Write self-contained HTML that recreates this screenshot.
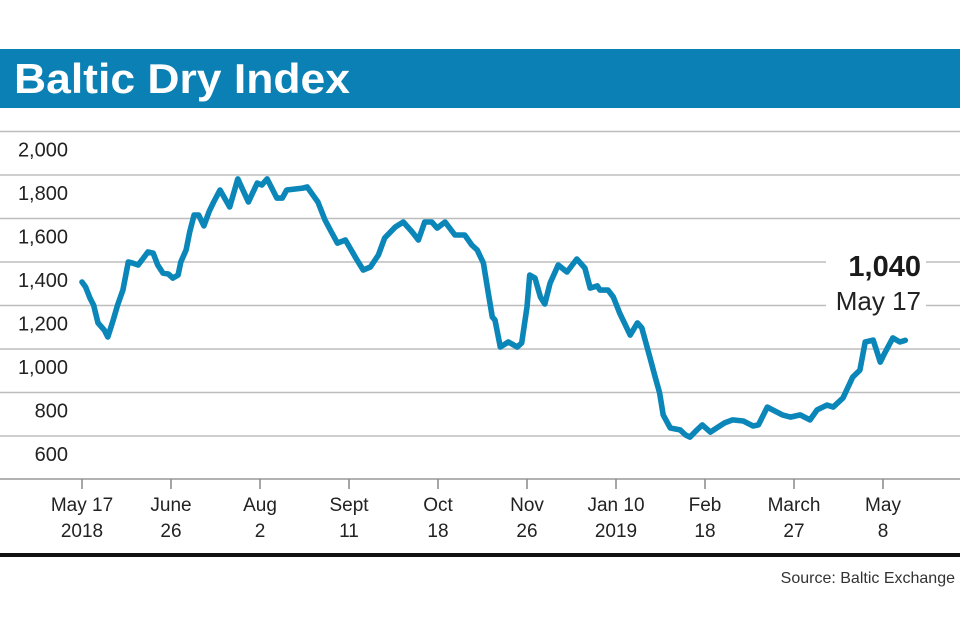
<!DOCTYPE html>
<html><head><meta charset="utf-8"><style>
html,body{margin:0;padding:0;background:#fff;}
body{width:960px;height:640px;overflow:hidden;font-family:"Liberation Sans",sans-serif;}
</style></head><body>
<svg width="960" height="640" viewBox="0 0 960 640" style="display:block">
<rect x="0" y="49" width="960" height="59" fill="#0a80b4"/>
<text x="14" y="93" font-size="42" font-weight="bold" fill="#fff" textLength="336" lengthAdjust="spacingAndGlyphs" font-family="Liberation Sans, sans-serif">Baltic Dry Index</text>
<g id="grid"></g><g id="xaxis"></g>
<path id="series" fill="none" stroke="#0b86b8" stroke-width="5.6" stroke-linejoin="round" stroke-linecap="round"/>
<rect x="826" y="247" width="100" height="74" fill="#fff"/>
<text x="921" y="276" text-anchor="end" font-size="29" font-weight="bold" fill="#1a1a1a">1,040</text>
<text x="921" y="310" text-anchor="end" font-size="26" fill="#222">May 17</text>
<rect x="0" y="553" width="960" height="4" fill="#111"/>
<text x="955" y="583" text-anchor="end" font-size="16" fill="#333">Source: Baltic Exchange</text>
</svg>
<script>
const yTicks=[600,800,1000,1200,1400,1600,1800,2000];
const yTickLabels=["600","800","1,000","1,200","1,400","1,600","1,800","2,000"];
const xTickPos=[0,10,20,30,40,50,60,70,80,90];
const xTickLine1=["May 17","June","Aug","Sept","Oct","Nov","Jan 10","Feb","March","May"];
const xTickLine2=["2018","26","2","11","18","26","2019","18","27","8"];
const timeIdx=[0,0.4,0.9,1.3,1.8,2.5,2.9,3.5,4.0,4.6,5.2,5.7,6.3,6.9,7.4,8.0,8.5,9.1,9.7,10.2,10.8,11.1,11.7,12.1,12.6,13.1,13.7,14.3,14.8,15.5,16.6,17.5,18.7,19.7,20.2,20.8,21.9,22.5,23.0,24.8,25.3,26.5,27.3,27.9,28.7,29.6,30.9,31.6,32.4,33.3,34.0,35.2,36.1,37.1,37.8,38.5,39.3,39.9,40.8,41.9,43.0,43.8,44.4,45.1,45.6,46.1,46.4,47.0,47.9,48.9,49.4,50.0,50.3,50.9,51.5,52.0,52.6,53.5,54.5,55.6,56.5,57.1,57.9,58.2,59.1,59.7,60.4,61.6,62.4,62.9,63.8,64.4,64.9,65.3,66.1,67.2,67.8,68.3,69.1,69.7,70.6,71.3,72.2,73.1,74.3,75.4,76.0,77.0,77.6,78.7,79.6,80.7,81.8,82.6,83.7,84.4,85.5,86.6,87.4,88.0,88.9,89.7,90.2,91.1,91.9,92.5];
const values=[1308,1285,1234,1202,1120,1087,1055,1133,1202,1271,1400,1395,1386,1418,1446,1441,1386,1349,1345,1326,1340,1400,1455,1538,1616,1616,1566,1634,1676,1731,1653,1782,1676,1763,1754,1782,1694,1694,1731,1740,1745,1676,1593,1547,1487,1501,1409,1363,1377,1432,1510,1561,1584,1538,1501,1584,1584,1556,1584,1524,1524,1478,1455,1395,1271,1147,1133,1009,1032,1009,1028,1193,1340,1326,1239,1207,1303,1386,1354,1414,1372,1280,1290,1271,1271,1239,1166,1064,1120,1097,963,871,798,697,637,628,605,595,628,651,618,637,660,674,669,646,651,733,720,697,687,697,674,720,742,733,775,871,903,1032,1041,940,982,1051,1032,1040];
const NS="http://www.w3.org/2000/svg";
const xScale=t=>82+t*8.9;
const yScale=v=>349-(v-1000)*0.2175;
const grid=document.getElementById('grid');
yTicks.forEach((v,i)=>{
  const l=document.createElementNS(NS,'line');
  l.setAttribute('x1',0);l.setAttribute('x2',960);
  l.setAttribute('y1',yScale(v));l.setAttribute('y2',yScale(v));
  l.setAttribute('stroke','#bdbdbd');l.setAttribute('stroke-width','1.5');
  
  
  grid.appendChild(l);
  const t=document.createElementNS(NS,'text');
  t.setAttribute('x',68);t.setAttribute('y',yScale(v)+25);
  t.setAttribute('text-anchor','end');t.setAttribute('font-size','20');t.setAttribute('fill','#222');
  t.textContent=yTickLabels[i];
  
  
  grid.appendChild(t);
});
const xa=document.getElementById('xaxis');
const base=document.createElementNS(NS,'line');
base.setAttribute('x1',0);base.setAttribute('x2',960);base.setAttribute('y1',479);base.setAttribute('y2',479);
base.setAttribute('stroke','#999');base.setAttribute('stroke-width','1.5');


xa.appendChild(base);
xTickPos.forEach((p,i)=>{
  const x=xScale(p);
  const tk=document.createElementNS(NS,'line');
  tk.setAttribute('x1',x);tk.setAttribute('x2',x);tk.setAttribute('y1',479);tk.setAttribute('y2',489);
  tk.setAttribute('stroke','#888');tk.setAttribute('stroke-width','1.5');
  
  
  xa.appendChild(tk);
  [[xTickLine1[i],511],[xTickLine2[i],537]].forEach(([s,y])=>{
    const t=document.createElementNS(NS,'text');
    t.setAttribute('x',x);t.setAttribute('y',y);t.setAttribute('text-anchor','middle');
    t.setAttribute('font-size','19');t.setAttribute('fill','#222');
    t.textContent=s;
    
    
    xa.appendChild(t);
  });
});
document.getElementById('series').setAttribute('d',values.map((v,i)=>(i?'L':'M')+xScale(timeIdx[i]).toFixed(1)+' '+yScale(v).toFixed(1)).join(' '));
</script>
</body></html>
